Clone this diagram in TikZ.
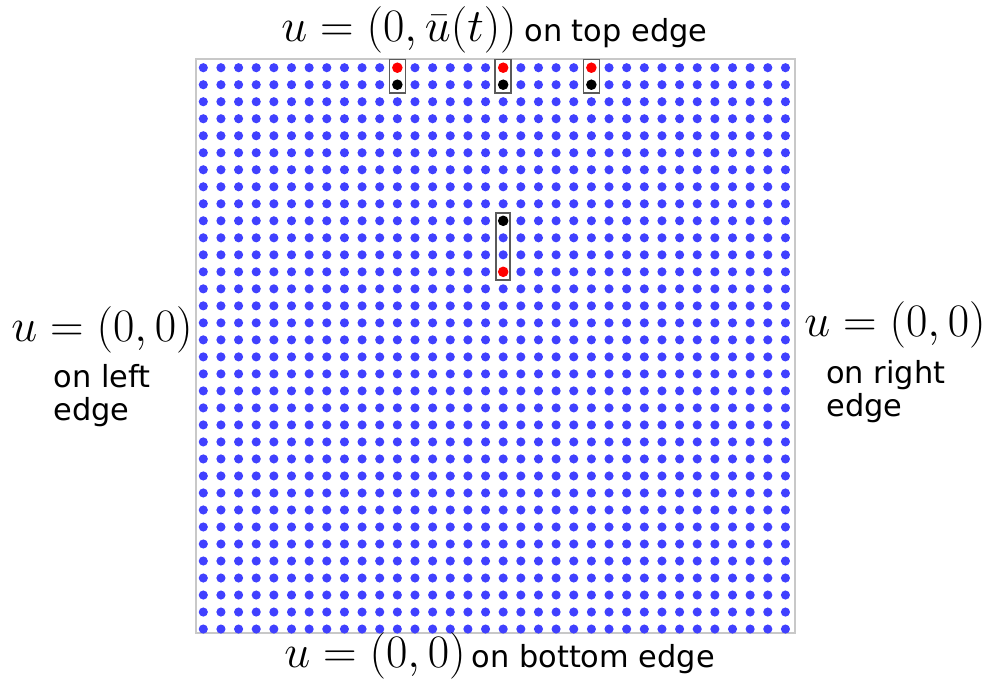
\RequirePackage{fix-cm}
\documentclass[tikz,border=0pt]{standalone}
\usepackage{fontspec}
\usetikzlibrary{positioning}
\newfontfamily\edgefont{DejaVu Sans}
\definecolor{dotblue}{RGB}{64,64,255}
\definecolor{framegray}{RGB}{200,200,200}
\definecolor{boxgray}{RGB}{90,90,90}
\begin{document}
\begin{tikzpicture}[x=0.02cm, y=-0.02cm,
        mathlabel/.style={font=\fontsize{26.5}{30}\selectfont, inner sep=0pt},
        edgelabel/.style={font=\edgefont\fontsize{17.3}{19}\selectfont, inner sep=0pt, align=left},
        pickbox/.style={draw=boxgray, line width=0.9pt}]
        \useasboundingbox (0,0) rectangle (989,681);

        % Frame of the grid
        \draw[framegray, line width=0.8pt] (196,59) rectangle (795,633);

        % Grid points
        \foreach \i in {0,...,33}
          \foreach \j in {0,...,33}
            \fill[dotblue] ({203.3+17.64*\i},{67.7+17.01*\j}) circle (2.6pt);

        % Picked points near the top edge
        \foreach \i in {11,17,22} {
          \fill[white] ({203.3+17.64*\i},67.7) circle (2.8pt) ({203.3+17.64*\i},84.7) circle (2.8pt);
          \fill[red] ({203.3+17.64*\i},67.7) circle (3pt);
          \fill[black] ({203.3+17.64*\i},84.7) circle (3pt);
          \draw[pickbox] ({195.3+17.64*\i},59.3) rectangle ({211.3+17.64*\i},92.7);
        }

        % Picked points inside
        \fill[black] (503.2,220.8) circle (3pt);
        \fill[red] (503.2,271.8) circle (3pt);
        \draw[pickbox] (496.2,212.8) rectangle (510.2,279.8);

        % Boundary conditions
        \node[mathlabel] (topmath) at (399,30) {$u=(0,\bar{u}(t))$};
        \node[edgelabel, anchor=base west] (toptext) at ([xshift=4pt]topmath.base east) {on top edge};

        \node[mathlabel] (leftmath) at (102,330) {$u=(0,0)$};
        \node[edgelabel, below=6pt of leftmath] (lefttext) {on left\\edge};

        \node[mathlabel] (rightmath) at (895,325) {$u=(0,0)$};
        \node[edgelabel, anchor=north west] (righttext) at (826,360) {on right\\edge};

        \node[mathlabel] (bottommath) at (375,656) {$u=(0,0)$};
        \node[edgelabel, anchor=base west] (bottomtext) at ([xshift=3pt]bottommath.base east) {on bottom edge};
\end{tikzpicture}
\end{document}
